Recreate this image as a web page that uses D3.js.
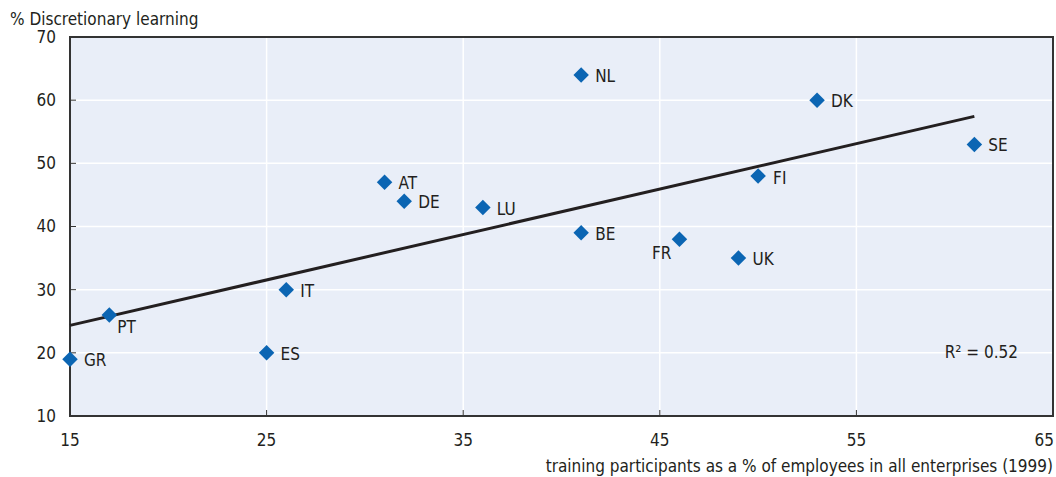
<!DOCTYPE html>
<html>
<head>
<meta charset="utf-8">
<script src="https://cdn.jsdelivr.net/npm/d3@7"></script>
<style>
  body { margin: 0; background: #fff; }
  svg { display: block; font-family: "Liberation Sans Narrow", "DejaVu Sans Condensed", "Roboto", sans-serif; }
  text { fill: #231f20; }
</style>
</head>
<body>
<svg id="chart" width="1056" height="477"></svg>
<script>
// data
const countries = ["GR", "PT", "ES", "IT", "AT", "DE", "LU", "NL", "BE", "FR", "UK", "FI", "DK", "SE"];
const trainingPct = [15, 17, 25, 26, 31, 32, 36, 41, 41, 46, 49, 50, 53, 61];
const discretionaryPct = [19, 26, 20, 30, 47, 44, 43, 64, 39, 38, 35, 48, 60, 53];
const xTicks = [15, 25, 35, 45, 55, 65];
const yTicks = [10, 20, 30, 40, 50, 60, 70];

// label placement (style only)
const labelOffset = {
    PT: {dx: 8, dy: 18, anchor: "start"},
    FR: {dx: -8, dy: 20, anchor: "end"},
    FI: {dx: 15, dy: 8, anchor: "start"}
};
const defaultOffset = {dx: 14, dy: 7, anchor: "start"};

const svg = d3.select("#chart");
const margin = {top: 37, right: 3, bottom: 61, left: 70};
const width = +svg.attr("width") - margin.left - margin.right;
const height = +svg.attr("height") - margin.top - margin.bottom;
const fontSize = 17;

const x = d3.scaleLinear().domain([15, 65]).range([0, width]);
const y = d3.scaleLinear().domain([10, 70]).range([height, 0]);

const points = countries.map((c, i) => ({code: c, x: trainingPct[i], y: discretionaryPct[i]}));

// least squares fit
const mx = d3.mean(points, d => d.x), my = d3.mean(points, d => d.y);
const sxy = d3.sum(points, d => (d.x - mx) * (d.y - my));
const sxx = d3.sum(points, d => (d.x - mx) ** 2);
const syy = d3.sum(points, d => (d.y - my) ** 2);
const slope = sxy / sxx, intercept = my - slope * mx;
const r2 = (sxy * sxy) / (sxx * syy);

const focus = svg.append("g")
    .attr("transform", "translate(" + margin.left + "," + margin.top + ")");

focus.append("rect")
    .attr("width", width).attr("height", height)
    .attr("fill", "#e9eef8");

// grid
focus.selectAll(".hgrid")
    .data(yTicks.slice(1, -1))
    .join("line")
    .attr("x1", 0).attr("x2", width)
    .attr("y1", d => y(d)).attr("y2", d => y(d))
    .attr("stroke", "#fff").attr("stroke-width", 1.5);

focus.selectAll(".vgrid")
    .data(xTicks.slice(1, -1))
    .join("line")
    .attr("y1", 0).attr("y2", height)
    .attr("x1", d => x(d)).attr("x2", d => x(d))
    .attr("stroke", "#fff").attr("stroke-width", 1.5);

// inner tick marks
focus.append("g")
    .selectAll("line")
    .data(yTicks.slice(1, -1))
    .join("line")
    .attr("x1", 0).attr("x2", 6)
    .attr("y1", d => y(d)).attr("y2", d => y(d))
    .attr("stroke", "#333").attr("stroke-width", 1);

focus.append("g")
    .selectAll("line")
    .data(xTicks.slice(1, -1))
    .join("line")
    .attr("y1", height).attr("y2", height - 6)
    .attr("x1", d => x(d)).attr("x2", d => x(d))
    .attr("stroke", "#333").attr("stroke-width", 1);

// frame
focus.append("rect")
    .attr("width", width).attr("height", height)
    .attr("fill", "none")
    .attr("stroke", "#333").attr("stroke-width", 2);

// tick labels
focus.append("g")
    .selectAll("text")
    .data(yTicks)
    .join("text")
    .attr("x", -14)
    .attr("y", d => y(d))
    .attr("dy", "0.35em")
    .attr("text-anchor", "end")
    .style("font-size", fontSize + "px")
    .text(d => d);

focus.append("g")
    .selectAll("text")
    .data(xTicks)
    .join("text")
    .attr("x", d => x(d))
    .attr("y", height + 30)
    .attr("text-anchor", (d, i) => i === xTicks.length - 1 ? "end" : "middle")
    .attr("dx", (d, i) => i === xTicks.length - 1 ? 1 : 0)
    .style("font-size", fontSize + "px")
    .text(d => d);

// regression line
const line = d3.line()
    .x(d => x(d))
    .y(d => y(intercept + slope * d));

focus.append("path")
    .datum(d3.extent(trainingPct))
    .attr("fill", "none")
    .attr("stroke", "#231f20")
    .attr("stroke-width", 3)
    .attr("d", line);

// markers
const diamond = d3.symbol().type(d3.symbolSquare).size(120);
focus.selectAll(".pt")
    .data(points)
    .join("path")
    .attr("d", diamond)
    .attr("transform", d => "translate(" + x(d.x) + "," + y(d.y) + ") rotate(45)")
    .attr("fill", "#0b65b3");

focus.selectAll(".lbl")
    .data(points)
    .join("text")
    .each(function(d) {
        const o = labelOffset[d.code] || defaultOffset;
        d3.select(this)
            .attr("x", x(d.x) + o.dx)
            .attr("y", y(d.y) + o.dy)
            .attr("text-anchor", o.anchor);
    })
    .style("font-size", fontSize + "px")
    .text(d => d.code);

focus.append("text")
    .attr("x", width - 35)
    .attr("y", y(19.2))
    .attr("text-anchor", "end")
    .style("font-size", fontSize + "px")
    .text("R\u00b2 = " + r2.toFixed(2));

// axis titles
svg.append("text")
    .attr("x", 10)
    .attr("y", 25)
    .style("font-size", fontSize + "px")
    .text("% Discretionary learning");

svg.append("text")
    .attr("x", margin.left + width)
    .attr("y", 472)
    .attr("text-anchor", "end")
    .style("font-size", fontSize + "px")
    .text("training participants as a % of employees in all enterprises (1999)");
</script>
</body>
</html>
